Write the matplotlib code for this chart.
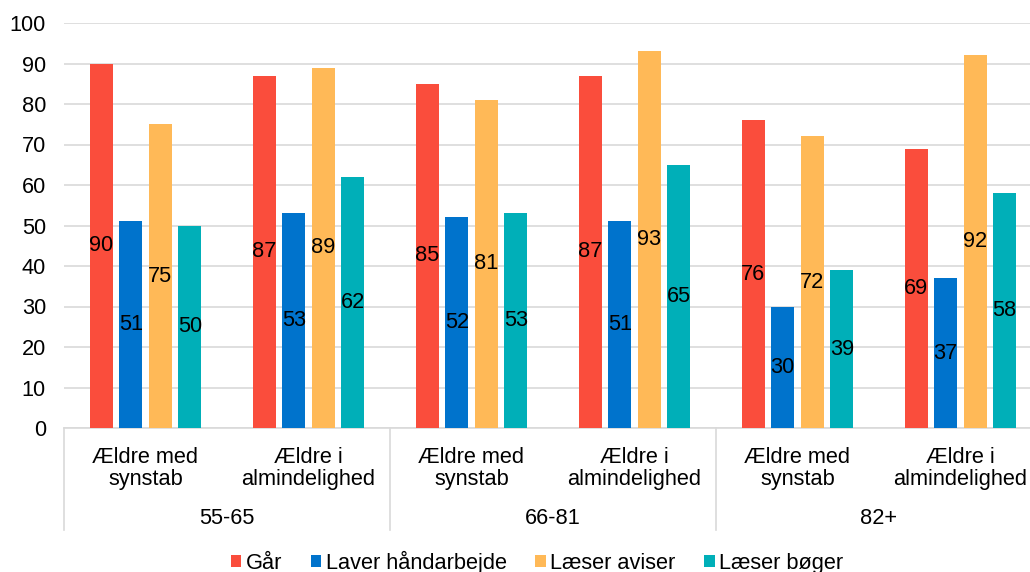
import matplotlib
matplotlib.use("Agg")
import matplotlib.pyplot as plt
from matplotlib.patches import Patch
import numpy as np

plt.rcParams['font.family'] = ['Liberation Sans', 'DejaVu Sans']

age_groups = ["55-65", "66-81", "82+"]
categories = ["Ældre med\nsynstab", "Ældre i\nalmindelighed"] * 3
series_names = ["Går", "Laver håndarbejde", "Læser aviser", "Læser bøger"]
gaar = [90, 87, 85, 87, 76, 69]
haandarbejde = [51, 53, 52, 51, 30, 37]
aviser = [75, 89, 81, 93, 72, 92]
boeger = [50, 62, 53, 65, 39, 58]
yticks = list(range(0, 101, 10))

series = [gaar, haandarbejde, aviser, boeger]
colors = ["#FA4D3C", "#0073CC", "#FFB957", "#00AFB8"]
fs = 15.7

fig = plt.figure(figsize=(10.30, 5.72), dpi=100)
ax = fig.add_axes([64 / 1030, (572 - 428) / 572, (1042 - 64) / 1030, 405 / 572])

x = np.arange(len(categories))
pitch = 0.181
width = 0.141
for i, (vals, col) in enumerate(zip(series, colors)):
    pos = x + (i - 1.5) * pitch
    ax.bar(pos, vals, width=width, color=col, zorder=3, label=series_names[i])
    for p, v in zip(pos, vals):
        ax.text(p, v / 2, str(v), ha="center", va="center", fontsize=fs,
                color="black", zorder=4)

ax.set_xlim(-0.5, len(categories) - 0.5)
ax.set_ylim(0, 100)
ax.set_yticks(yticks)
ax.tick_params(axis="y", length=0, pad=13, labelsize=fs)
ax.set_xticks([])
ax.yaxis.grid(True, color="#D9D9D9", linewidth=1.2, zorder=0)
for s in ["top", "right", "left"]:
    ax.spines[s].set_visible(False)
ax.spines["bottom"].set_color("#D9D9D9")
ax.spines["bottom"].set_linewidth(1.2)

trans = ax.get_xaxis_transform()
for sx in [-0.5, 1.5, 3.5, 5.5]:
    ax.plot([sx, sx], [0, -0.252], transform=trans, color="#D9D9D9",
            linewidth=1.2, clip_on=False)

for xi, lab in zip(x, categories):
    ax.text(xi, -0.047, lab, transform=trans, ha="center", va="top",
            fontsize=fs, linespacing=1.08)
for g, name in enumerate(age_groups):
    ax.text(2 * g + 0.5, -0.223, name, transform=trans, ha="center",
            va="center", fontsize=fs)

handles = [Patch(facecolor=c, edgecolor="none") for c in colors]
fig.legend(handles, series_names, loc="center", ncol=4,
           bbox_to_anchor=(537 / 1030, 10 / 572), frameon=False, fontsize=fs,
           handlelength=0.5, handleheight=0.5, handletextpad=0.2,
           columnspacing=1.3, borderpad=0)

fig.savefig("out.png", dpi=100)
